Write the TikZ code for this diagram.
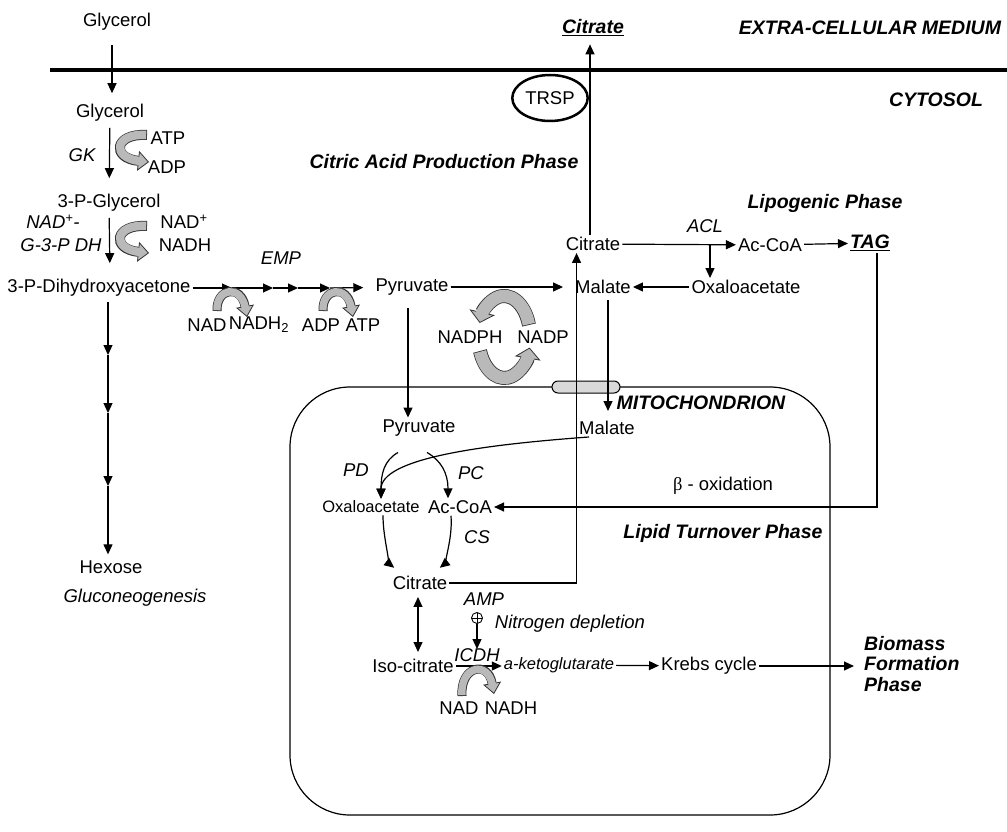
\documentclass[tikz,border=0pt]{standalone}
\usepackage{fontspec}
\setmainfont{Liberation Sans}
\newfontfamily\greekfont{Liberation Serif}
\usetikzlibrary{arrows.meta, shapes.geometric}

% grey block arrow: outer width, inner width, head width, path
\newcommand{\blockarrow}[4]{%
  \draw[line width=#1, draw=black!80,
        -{Triangle[width=#3, length=11pt, fill=gray!55, line width=0.8pt]}] #4;
  \draw[line width=#2, draw=gray!55, shorten <=0.8pt, shorten >=9pt] #4;}

\begin{document}
\begin{tikzpicture}[
  x=1pt, y=-1pt,
  met/.style={inner sep=2pt, font=\fontsize{18.5}{21}\selectfont},
  sm/.style={inner sep=2pt, font=\fontsize{16.5}{19}\selectfont},
  enz/.style={inner sep=2pt, font=\fontsize{18.5}{21}\selectfont\itshape},
  phase/.style={inner sep=2pt, font=\fontsize{19.5}{20.5}\selectfont\bfseries\itshape},
  arr/.style={-{Triangle[length=10pt, width=9pt]}, line width=1.2pt},
  darr/.style={{Triangle[length=10pt, width=9pt]}-{Triangle[length=10pt, width=9pt]}, line width=1.2pt},
  activ/.style={circle, draw, line width=0.9pt, minimum size=11, inner sep=0,
    path picture={\draw[line width=0.9pt] (path picture bounding box.north) -- (path picture bounding box.south)
      (path picture bounding box.west) -- (path picture bounding box.east);}}
]
  \useasboundingbox (0,0) rectangle (1007,832);

  % membranes
  \draw[line width=4pt] (50,70) -- (1007,70);
  \draw[line width=1.2pt, rounded corners=60] (290,387) rectangle (830,815);
  \node[draw, line width=1pt, fill=gray!30, rounded corners=6, minimum width=68,
        minimum height=12, inner sep=0] (pore) at (586,387) {};

  % labels
  \node[phase] (ecm)  at (870,28)  {EXTRA-CELLULAR MEDIUM};
  \node[phase] (cyto) at (936,100) {CYTOSOL};
  \node[phase] (capp) at (444,162) {Citric Acid Production Phase};
  \node[phase] (lipo) at (825,203) {Lipogenic Phase};
  \node[phase] (mito) at (701,403) {MITOCHONDRION};
  \node[phase] (ltp)  at (723,533) {Lipid Turnover Phase};
  \node[phase, align=left, anchor=west] (bio) at (862,664) {Biomass\\Formation\\Phase};

  % cytosol
  \node[met] (gly0)  at (117,22)  {Glycerol};
  \node[met] (gly1)  at (110,113) {Glycerol};
  \node[enz] (gk)    at (82,155)  {GK};
  \node[met] (atp1)  at (168,138) {ATP};
  \node[met] (adp1)  at (167,167) {ADP};
  \node[met] (g3p)   at (109,203) {3-P-Glycerol};
  \node[enz] (gdh1)  at (53,222)  {NAD\textsuperscript{+}-};
  \node[enz] (gdh2)  at (61,245)  {G-3-P DH};
  \node[met] (nadp1) at (184,222) {NAD\textsuperscript{+}};
  \node[met] (nadh1) at (185,245) {NADH};
  \node[met] (dha)   at (99,288)  {3-P-Dihydroxyacetone};
  \node[enz] (emp)   at (281,258) {EMP};
  \node[met] (nad2)  at (207,325) {NAD};
  \node[met] (nadh2) at (259,325) {NADH\textsubscript{2}};
  \node[met] (adp2)  at (321,325) {ADP};
  \node[met] (atp2)  at (363,325) {ATP};
  \node[met] (hex)   at (111,567) {Hexose};
  \node[enz] (gluco) at (135,598) {Gluconeogenesis};
  \node[met] (pyr1)  at (412,287) {Pyruvate};
  \node[met] (nadph) at (470,337) {NADPH};
  \node[met] (nadp)  at (543,337) {NADP};
  \node[met] (mal1)  at (603,287) {Malate};
  \node[met] (cit1)  at (593,244) {Citrate};
  \node[phase] (cit0) at (593,28) {\underline{Citrate}};
  \node[met, ellipse, draw, line width=2.5pt, minimum width=75, minimum height=46] (trsp) at (550,98) {TRSP};
  \node[enz] (acl)   at (705,226) {ACL};
  \node[met] (acoa1) at (770,245) {Ac-CoA};
  \node[phase] (tag) at (870,243) {\underline{TAG}};
  \node[met] (oaa1)  at (746,287) {Oxaloacetate};

  % mitochondrion
  \node[met] (pyr2)  at (419,428) {Pyruvate};
  \node[met] (mal2)  at (607,428) {Malate};
  \node[enz] (pd)    at (356,470) {PD};
  \node[enz] (pc)    at (471,473) {PC};
  \node[sm]  (oaa2)  at (371,507) {Oxaloacetate};
  \node[met] (acoa2) at (460,507) {Ac-CoA};
  \node[met] (beta)  at (723,486) {{\greekfont β} - oxidation};
  \node[enz] (cs)    at (477,537) {CS};
  \node[met] (cit2)  at (420,583) {Citrate};
  \node[enz] (amp)   at (484,599) {AMP};
  \node[activ] (plus) at (477,618) {};
  \node[enz] (ndep)  at (570,624) {Nitrogen depletion};
  \node[met] (iso)   at (413,666) {Iso-citrate};
  \node[enz] (icdh)  at (477,655) {ICDH};
  \node[sm, font=\fontsize{16.5}{19}\selectfont\itshape] (akg) at (559,665) {a-ketoglutarate};
  \node[met] (krebs) at (709,666) {Krebs cycle};
  \node[met] (nad3)  at (459,708) {NAD};
  \node[met] (nadh3) at (511,708) {NADH};

  \coordinate (e1) at (232,288);
  \coordinate (e2) at (273,288);
  \coordinate (e3) at (298,288);
  \coordinate (e4) at (330,288);
  \coordinate (h1) at (108,355);
  \coordinate (h2) at (108,413);
  \coordinate (h3) at (108,486);
  \coordinate (aclb) at (710,245);
  \coordinate (icdh0) at (477,649);

  % glycerol uptake and gluconeogenesis
  \draw[arr, shorten <=12, shorten >=9] ([xshift=-5]gly0.south) -- ([xshift=2]gly1.north);
  \draw[arr, shorten <=4, shorten >=14] (gly1) -- (g3p);
  \draw[arr, shorten <=4, shorten >=14] (g3p) -- ([xshift=11]dha.north);
  \draw[arr, shorten <=3] ([xshift=9]dha.south) -- (h1);
  \draw[arr] (h1) -- (h2);
  \draw[arr] (h2) -- (h3);
  \draw[arr, shorten >=4] (h3) -- ([xshift=-3]hex.north);

  % EMP
  \draw[arr] (dha) -- (e1);
  \draw[arr] (e1) -- (e2);
  \draw[arr] (e2) -- (e3);
  \draw[arr] (e3) -- (e4);
  \draw[arr, shorten >=10] (e4) -- (pyr1);

  % citric acid production / lipogenesis
  \draw[arr, shorten >=10] (pyr1) -- (mal1);
  \draw[arr] (oaa1) -- (mal1);
  \draw[arr] (cit1) -- (acoa1);
  \draw[arr] (aclb) -- (aclb |- oaa1.north);
  \draw[arr] (acoa1) -- (tag);
  \draw[arr, shorten >=6] ([xshift=-3]cit1.north) -- ([xshift=-3]cit0.south);
  \draw[arr] ([xshift=7]tag.south) |- (acoa2);
  \draw[arr] (cit2) -| ([xshift=13]cit1.south west);
  \draw[arr, shorten <=11] ([xshift=-4]pyr1.south) -- ([xshift=-11]pyr2.north);
  \draw[arr, shorten <=4, shorten >=8] ([xshift=5]mal1.south) -- ([xshift=1]mal2.north);

  % mitochondrion
  \draw[arr] ([shift={(-21,14)}]pyr2.south) .. controls +(-14,8) and +(0,-25) .. ([xshift=10]oaa2.north);
  \draw[arr] ([shift={(8,14)}]pyr2.south) .. controls +(14,8) and +(0,-25) .. ([xshift=-12]acoa2.north);
  \draw[arr] ([xshift=-18]mal2.south) .. controls +(-110,8) and +(0,-40) .. ([xshift=10]oaa2.north);
  \draw[arr, shorten >=10] ([xshift=12]oaa2.south) .. controls +(0,25) and +(-10,-8) .. ([xshift=-18]cit2.north);
  \draw[arr, shorten >=10] ([xshift=-9]acoa2.south) .. controls +(2,25) and +(10,-8) .. ([xshift=12]cit2.north);
  \draw[darr, shorten <=5, shorten >=5] ([xshift=-2]cit2.south) -- ([xshift=5]iso.north);
  \draw[arr] (plus.south) -- (icdh0);
  \draw[arr] (iso.east) -- (iso.east -| akg.west);
  \draw[arr] (akg) -- (krebs);
  \draw[arr, shorten >=8] (krebs) -- (krebs -| bio.west);

  % cofactors
  \blockarrow{10pt}{8.4pt}{20pt}{(147,135) .. controls (114,133) and (111,158) .. (149,162)}
  \blockarrow{10pt}{8.4pt}{20pt}{(147,226) .. controls (114,224) and (111,249) .. (149,253)}
  \blockarrow{9pt}{7.4pt}{18pt}{(217,311) .. controls (216,288) and (241,284) .. (247,317)}
  \blockarrow{9pt}{7.4pt}{18pt}{(323,311) .. controls (322,288) and (347,284) .. (353,317)}
  \blockarrow{9pt}{7.4pt}{18pt}{(462,696) .. controls (460,666) and (488,660) .. (494,694)}
  \blockarrow{14pt}{12.4pt}{26pt}{(529,325) arc[start angle=-17, end angle=-160, x radius=26, y radius=41]}
  \blockarrow{14pt}{12.4pt}{26pt}{(480,351) arc[start angle=160, end angle=15, x radius=26, y radius=41]}
\end{tikzpicture}
\end{document}
